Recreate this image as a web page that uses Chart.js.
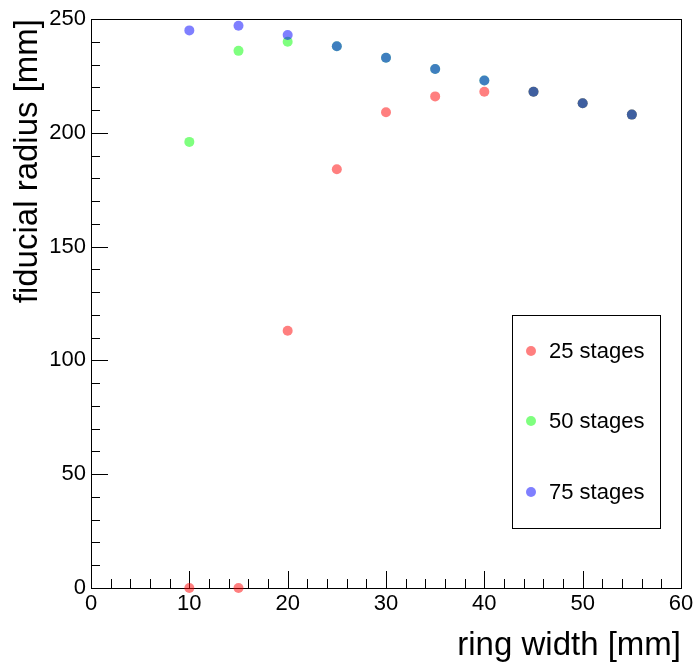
<!DOCTYPE html>
<html>
<head>
<meta charset="utf-8">
<script src="https://cdn.jsdelivr.net/npm/chart.js@4"></script>
<style>
  html, body { margin: 0; padding: 0; background: #fff; }
  #wrap { width: 697px; height: 662px; position: relative; }
</style>
</head>
<body>
<div id="wrap"><canvas id="c" width="697" height="662"></canvas></div>
<script>
// ---- data ----
const ringWidth = [10, 15, 20, 25, 30, 35, 40, 45, 50, 55];
const radius25 = [0, 0, 113, 184, 209, 216, 218, 218, 213, 208];
const radius50 = [196, 236, 240, 238, 233, 228, 223, 218, 213, 208];
const radius75 = [245, 247, 243, 238, 233, 228, 223, 218, 213, 208];
const seriesLabels = ['25 stages', '50 stages', '75 stages'];
const xTicks = [0, 10, 20, 30, 40, 50, 60];
const yTicks = [0, 50, 100, 150, 200, 250];
const xTitle = 'ring width [mm]';
const yTitle = 'fiducial radius [mm]';

const colors = ['rgba(255,0,0,0.5)', 'rgba(0,255,0,0.5)', 'rgba(0,0,255,0.5)'];
const FONT = "'Liberation Sans', Arial, Helvetica, sans-serif";
Chart.defaults.font.family = FONT;
Chart.defaults.color = '#000';

function pts(ys) { return ringWidth.map((x, i) => ({ x: x, y: ys[i] })); }

const frame = {
  id: 'frame',
  beforeDatasetsDraw(chart) {
    const { ctx, chartArea: a } = chart;
    const xs = chart.scales.x, ys = chart.scales.y;
    ctx.save();
    ctx.strokeStyle = '#000';
    ctx.lineWidth = 1;
    ctx.strokeRect(Math.round(a.left) + 0.5, Math.round(a.top) + 0.5,
      Math.round(a.right - a.left), Math.round(a.bottom - a.top));
    // x ticks
    ctx.beginPath();
    for (let v = xTicks[0]; v <= xTicks[xTicks.length - 1] + 1e-9; v += 2) {
      const px = Math.round(xs.getPixelForValue(v)) + 0.5;
      const major = xTicks.includes(Math.round(v));
      const len = major ? 17 : 9;
      ctx.moveTo(px, a.bottom);
      ctx.lineTo(px, a.bottom - len);
    }
    for (let v = yTicks[0]; v <= yTicks[yTicks.length - 1] + 1e-9; v += 10) {
      const py = Math.round(ys.getPixelForValue(v)) + 0.5;
      const major = yTicks.includes(Math.round(v));
      const len = major ? 17 : 9;
      ctx.moveTo(a.left, py);
      ctx.lineTo(a.left + len, py);
    }
    ctx.stroke();
    ctx.restore();
  },
  afterDraw(chart) {
    const { ctx, chartArea: a } = chart;
    ctx.save();
    ctx.fillStyle = '#000';
    ctx.font = '33px ' + FONT;
    ctx.textAlign = 'right';
    ctx.textBaseline = 'alphabetic';
    ctx.fillText(xTitle, a.right, 655);
    ctx.save();
    ctx.translate(37, a.top);
    ctx.rotate(-Math.PI / 2);
    ctx.fillText(yTitle, 0, 0);
    ctx.restore();
    // legend
    const bx = 512.5, by = 315.5, bw = 148, bh = 213;
    ctx.strokeStyle = '#000';
    ctx.lineWidth = 1;
    ctx.strokeRect(bx, by, bw, bh);
    const rows = [351, 421, 492];
    ctx.font = '22px ' + FONT;
    ctx.textAlign = 'left';
    ctx.textBaseline = 'middle';
    seriesLabels.forEach((lab, i) => {
      ctx.fillStyle = colors[i];
      ctx.beginPath();
      ctx.arc(531, rows[i], 5, 0, Math.PI * 2);
      ctx.fill();
      ctx.fillStyle = '#000';
      ctx.fillText(lab, 549, rows[i] + 1);
    });
    ctx.restore();
  }
};

new Chart(document.getElementById('c'), {
  type: 'scatter',
  data: {
    datasets: [
      { label: seriesLabels[0], data: pts(radius25), backgroundColor: colors[0], pointRadius: 5, pointBorderWidth: 0, borderWidth: 0, clip: false, order: 3 },
      { label: seriesLabels[1], data: pts(radius50), backgroundColor: colors[1], pointRadius: 5, pointBorderWidth: 0, borderWidth: 0, clip: false, order: 2 },
      { label: seriesLabels[2], data: pts(radius75), backgroundColor: colors[2], pointRadius: 5, pointBorderWidth: 0, borderWidth: 0, clip: false, order: 1 }
    ]
  },
  options: {
    responsive: false,
    animation: false,
    events: [],
    layout: { padding: { left: 0, top: 19, right: 16, bottom: 0 } },
    plugins: { legend: { display: false }, tooltip: { enabled: false } },
    scales: {
      x: {
        type: 'linear', min: 0, max: 60,
        afterBuildTicks(s) { s.ticks = xTicks.map(v => ({ value: v })); },
        afterFit(s) { s.height = 74; },
        grid: { display: false, drawTicks: false },
        border: { display: false },
        ticks: { font: { size: 22 }, color: '#000', padding: 3, maxRotation: 0, autoSkip: false }
      },
      y: {
        type: 'linear', min: 0, max: 250,
        afterBuildTicks(s) { s.ticks = yTicks.map(v => ({ value: v })); },
        afterFit(s) { s.width = 91; },
        grid: { display: false, drawTicks: false },
        border: { display: false },
        ticks: { font: { size: 22 }, color: '#000', padding: 5, autoSkip: false }
      }
    }
  },
  plugins: [frame]
});
</script>
</body>
</html>
